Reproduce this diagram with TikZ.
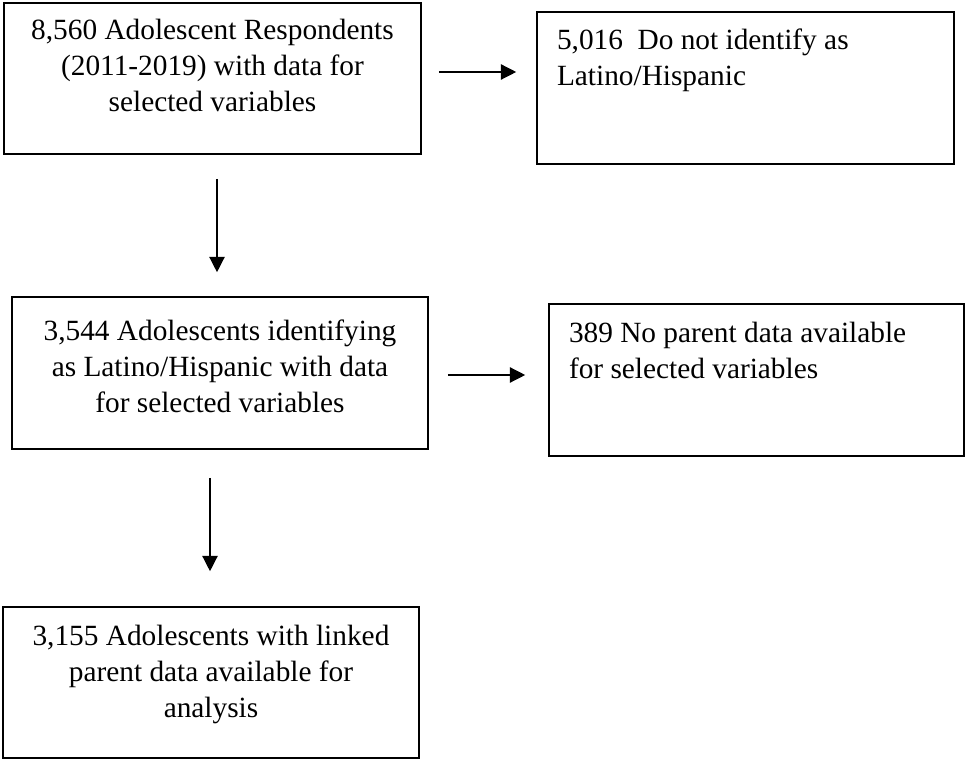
\documentclass[tikz,border=0pt]{standalone}
\usepackage{fontspec}
\setmainfont{Liberation Serif}
\usetikzlibrary{arrows.meta}

\tikzset{
  flowBox/.style = {draw, line width = 1.2pt, inner sep = 0pt},
  flowArrow/.style = {-{Triangle[length = 11.5pt, width = 11.5pt]}, line width = 1pt}
}
\newcommand{\boxText}[5]{\parbox[c][#2][t]{#1}{\vspace*{#3}#4\strut #5}}
\newcommand{\leftIndent}{\raggedright\leftskip = 15pt\relax}

\begin{document}
\begin{tikzpicture}[x = 0.75pt, y = -0.75pt, font = \fontsize{22}{27}\selectfont]
    \useasboundingbox (0,0) rectangle (969,762);

    \node[flowBox](respondents) at (212.5,78.5) {\boxText{312.75pt}{113.25pt}{8.85pt}{\centering}{8,560 Adolescent Respondents\\(2011-2019) with data for\\selected variables}};
    \node[flowBox](notLatino) at (745.5,88) {\boxText{312.75pt}{114pt}{9.6pt}{\leftIndent}{5,016\ \ Do not identify as\\Latino/Hispanic}};
    \node[flowBox](latino) at (220,373) {\boxText{312pt}{114pt}{13.4pt}{\centering}{3,544 Adolescents identifying\\as Latino/Hispanic with data\\for selected variables}};
    \node[flowBox](noParent) at (756.5,380) {\boxText{311.25pt}{114pt}{10.3pt}{\leftIndent}{389 No parent data available\\for selected variables}};
    \node[flowBox](linked) at (211,682.5) {\boxText{312pt}{113.25pt}{9.6pt}{\centering}{3,155 Adolescents with linked\\parent data available for\\analysis}};

    \draw[flowArrow] ([xshift = 12.75pt, yshift = 4.875pt]respondents.east) -- ([xshift = -15pt, yshift = 12pt]notLatino.west);
    \draw[flowArrow] ([xshift = 3.375pt, yshift = -18pt]respondents.south) -- ([xshift = -2.25pt, yshift = 18pt]latino.north);
    \draw[flowArrow] ([xshift = 14.25pt, yshift = -1.5pt]latino.east) -- ([xshift = -17.25pt, yshift = 3.75pt]noParent.west);
    \draw[flowArrow] ([xshift = -7.5pt, yshift = -21pt]latino.south) -- ([xshift = -0.75pt, yshift = 26.25pt]linked.north);
\end{tikzpicture}
\end{document}
